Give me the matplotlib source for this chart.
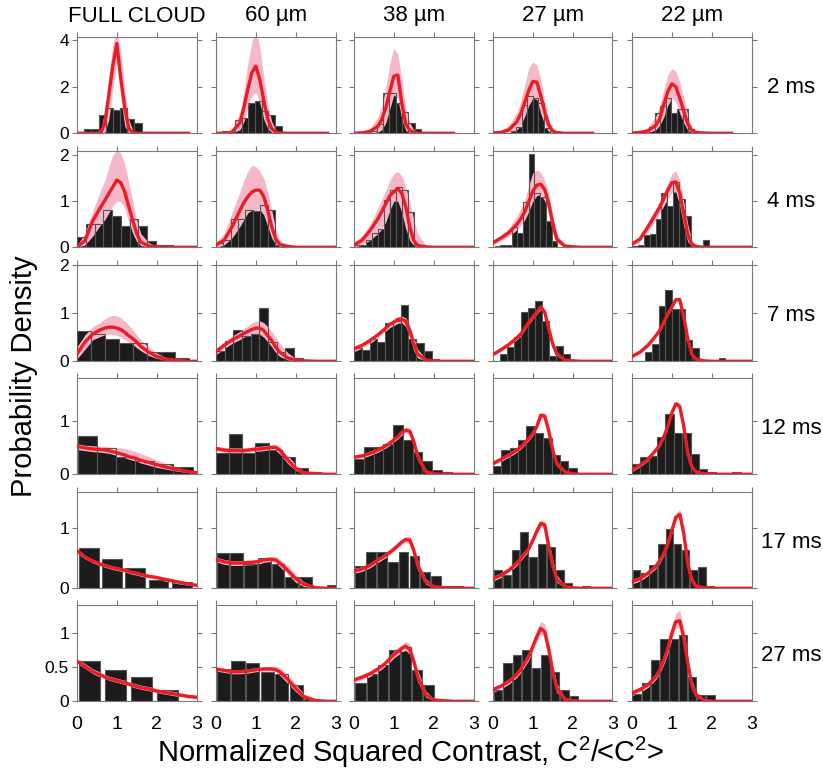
import matplotlib
matplotlib.use('Agg')
import matplotlib.pyplot as plt
import numpy as np

plt.rcParams['font.family'] = ['Liberation Sans', 'DejaVu Sans']
plt.rcParams['mathtext.fontset'] = 'custom'
plt.rcParams['mathtext.rm'] = 'Liberation Sans'

nan = np.nan

col_titles = ['FULL CLOUD', '60 µm', '38 µm', '27 µm', '22 µm']
row_labels = ['2 ms', '4 ms', '7 ms', '12 ms', '17 ms', '27 ms']
y_top = [4.13, 2.09, 2.0, 1.79, 1.6, 1.4]
y_ticks = [[0, 2, 4], [0, 1, 2], [0, 1, 2], [0, 1], [0, 1], [0, 0.5, 1]]

# x positions where the fitted curve / band were read
xk = [0, .2, .4, .6, .7, .8, .9, 1.0, 1.1, 1.2, 1.3, 1.4, 1.5, 1.6, 1.8, 2.0, 2.2, 2.5, 2.8, 3.0]

# histogram bins: first edge and width per panel (rows x cols)
bin_x0 = [[0, -0.025, 0.1, 0.02, 0.01],
          [0, 0, 0, 0.04, 0],
          [0, 0, 0, 0, 0],
          [0.02, 0, 0, 0, 0],
          [0, 0.005, 0.02, 0.01, 0.015],
          [0, 0, 0.02, 0, 0]]
bin_w = [[0.18, 0.1675, 0.158, 0.14, 0.14],
         [0.22, 0.185, 0.15, 0.143, 0.148],
         [0.35, 0.218, 0.195, 0.175, 0.1675],
         [0.48, 0.33, 0.245, 0.21, 0.21],
         [0.585, 0.345, 0.272, 0.222, 0.205],
         [0.65, 0.367, 0.285, 0.24, 0.232]]
bar_fill = [[1] * 5, [1] * 5, [1] * 5, [1] * 5,
            [0.85, 0.92, 0.9, 0.88, 0.9],
            [0.81, 0.9, 0.9, 0.88, 0.9]]

h_2ms = [[0.03, 0.2, 0.18, 0.78, 1.1, 1.0, 1.1, 0.6, 0.44, 0.04, 0.04],
         [0, 0.1, 0.05, 0.57, 0.67, 1.3, 1.37, 0.95, 0.8, 0.3],
         [0.02, 0.04, 0.1, 0.4, 1.72, 1.74, 1.3, 0.93, 0.45, 0.2, 0.05, 0.05],
         [0, 0.01, 0.03, 0.1, 0.25, 1.2, 1.6, 1.5, 1.28, 0.22, 0.1, 0.05],
         [0, 0.01, 0.03, 0.29, 0.86, 1.19, 1.53, 0.86, 1.04, 1.04, 0.19, 0, 0.07, 0.07]]
h_4ms = [[0.22, 0.51, 0.51, 0.8, 0.67, 0.47, 0.62, 0.47, 0.13, 0.04, 0.04],
         [0.09, 0.15, 0.62, 0.62, 0.82, 0.79, 0.91, 0.82, 0.04, 0.02],
         [0.05, 0.04, 0.16, 0.3, 0.4, 1.02, 1.25, 1.31, 1.25, 0.77, 0.05, 0.05],
         [0.02, 0.06, 0.06, 0.45, 0.32, 0.99, 2.02, 1.17, 1.1, 0.58, 0.13],
         [0.02, 0.05, 0.26, 0.29, 0.62, 1.17, 0.89, 1.42, 1.04, 0.67, 0.04, 0, 0.15]]
h_7ms = [[0.63, 0.57, 0.47, 0.38, 0.38, 0.19, 0.19, 0.06, 0.03],
         [0.22, 0.43, 0.64, 0.53, 0.57, 1.11, 0.4, 0.2, 0.28, 0.07, 0.03],
         [0.28, 0.24, 0.47, 0.41, 0.79, 0.83, 1.16, 0.47, 0.38, 0.22, 0.05],
         [0, 0.15, 0.29, 0.51, 1.02, 1.11, 1.26, 0.83, 0.1, 0.31, 0.15],
         [0, 0, 0.19, 0.35, 1.14, 1.49, 1.09, 1.09, 0.45, 0.28, 0, 0, 0, 0.06]]
h_12ms = [[0.72, 0.48, 0.33, 0.25, 0.2, 0.14],
          [0.39, 0.75, 0.39, 0.59, 0.45, 0.32, 0.11, 0.05, 0],
          [0.29, 0.5, 0.5, 0.56, 0.92, 0.63, 0.41, 0.24, 0.08, 0.04],
          [0.16, 0.45, 0.48, 0.64, 0.89, 0.76, 0.67, 0.36, 0.24, 0.12],
          [0.19, 0.33, 0.34, 0.7, 1.12, 0.76, 0.76, 0.38, 0.09, 0.05, 0, 0, 0.05]]
h_17ms = [[0.67, 0.48, 0.33, 0.13, 0.11],
          [0.59, 0.59, 0.41, 0.5, 0.41, 0.19, 0.19, 0, 0.05],
          [0.37, 0.6, 0.6, 0.44, 0.6, 0.54, 0.27, 0.21, 0.04, 0.04],
          [0.3, 0.22, 0.64, 0.93, 0.52, 0.73, 0.69, 0.3, 0.09, 0, 0.04],
          [0.31, 0.26, 0.38, 0.73, 0.99, 0.74, 0.64, 0.3, 0.35, 0.04]]
h_27ms = [[0.59, 0.46, 0.35, 0.16],
          [0.47, 0.59, 0.56, 0.43, 0.39, 0.23, 0.03, 0.02],
          [0.27, 0.4, 0.53, 0.75, 0.79, 0.46, 0.24],
          [0.17, 0.56, 0.68, 0.75, 0.48, 0.68, 0.43, 0.16, 0.07],
          [0.1, 0.27, 0.6, 0.9, 0.9, 0.96, 0.35, 0.09, 0.09]]

fit_2ms = [[0, 0, 0, 0.02, 0.45, 1.65, 2.9, 3.85, 2.35, 1.1, 0.2, 0.03, 0, 0, 0, 0, 0, 0, 0, nan],
           [0, 0, 0.05, 0.45, 1.1, 1.9, 2.6, 2.88, 2.3, 1.4, 0.6, 0.2, 0.05, 0.01, 0, 0, 0, 0, 0, nan],
           [0, 0.02, 0.08, 0.3, 0.6, 1.1, 1.8, 2.45, 2.5, 1.3, 0.4, 0.12, 0.04, 0.01, 0, 0, 0, 0, nan, nan],
           [0.01, 0.04, 0.15, 0.5, 0.85, 1.35, 1.85, 2.22, 2.2, 1.6, 0.9, 0.35, 0.1, 0.03, 0, 0, 0, 0, nan, nan],
           [0.01, 0.04, 0.1, 0.35, 0.65, 1.25, 1.8, 2.12, 2.0, 1.5, 0.95, 0.4, 0.12, 0.04, 0.01, 0, 0, 0, nan, nan]]
lo_2ms = [[0, 0, 0, 0, 0.05, 0.6, 1.9, 3.1, 1.5, 0.3, 0, 0, 0, 0, 0, 0, 0, 0, 0, nan],
          [0, 0, 0, 0.15, 0.5, 1.1, 1.6, 1.75, 1.3, 0.6, 0.2, 0.04, 0, 0, 0, 0, 0, 0, 0, nan],
          [0, 0, 0, 0.05, 0.15, 0.45, 1.05, 1.65, 1.5, 0.6, 0.12, 0.02, 0, 0, 0, 0, 0, 0, nan, nan],
          [0, 0, 0.03, 0.15, 0.35, 0.75, 1.2, 1.5, 1.45, 0.85, 0.35, 0.07, 0, 0, 0, 0, 0, 0, nan, nan],
          [0, 0.01, 0.03, 0.15, 0.35, 0.7, 1.2, 1.5, 1.35, 0.85, 0.45, 0.12, 0.03, 0, 0, 0, 0, 0, nan, nan]]
hi_2ms = [[0, 0, 0, 0.15, 1.0, 2.5, 3.8, 4.6, 3.4, 1.9, 0.6, 0.12, 0.02, 0, 0, 0, 0, 0, 0, nan],
          [0, 0, 0.15, 0.9, 1.8, 3.0, 3.9, 4.4, 3.7, 2.4, 1.2, 0.5, 0.15, 0.05, 0, 0, 0, 0, 0, nan],
          [0, 0.05, 0.2, 0.7, 1.2, 2.0, 3.0, 3.65, 3.4, 2.3, 1.1, 0.45, 0.15, 0.05, 0.01, 0, 0, 0, nan, nan],
          [0.02, 0.1, 0.35, 0.9, 1.4, 2.1, 2.8, 3.06, 2.95, 2.3, 1.4, 0.6, 0.2, 0.06, 0.01, 0, 0, 0, nan, nan],
          [0.02, 0.08, 0.25, 0.75, 1.2, 1.9, 2.5, 2.78, 2.65, 2.2, 1.5, 0.8, 0.3, 0.1, 0.02, 0, 0, 0, nan, nan]]

fit_4ms = [[0, 0.15, 0.58, 0.88, 1.02, 1.17, 1.31, 1.46, 1.4, 1.2, 0.88, 0.58, 0.3, 0.11, 0.03, 0.01, 0, 0, 0, 0],
           [0.05, 0.15, 0.44, 0.8, 0.97, 1.1, 1.2, 1.24, 1.24, 1.1, 0.8, 0.44, 0.18, 0.06, 0.02, 0, 0, 0, 0, 0],
           [0.05, 0.15, 0.36, 0.62, 0.78, 0.95, 1.12, 1.2, 1.28, 1.17, 0.88, 0.44, 0.15, 0.04, 0.01, 0, 0, 0, 0, 0],
           [0.1, 0.2, 0.32, 0.5, 0.62, 0.78, 1.0, 1.22, 1.35, 1.37, 1.25, 0.95, 0.52, 0.18, 0.03, 0.01, 0, 0, 0, 0],
           [0.07, 0.18, 0.44, 0.73, 0.88, 1.06, 1.24, 1.4, 1.42, 1.17, 0.73, 0.29, 0.07, 0.02, 0, 0, 0, 0, 0, 0]]
lo_4ms = [[0, 0.05, 0.25, 0.5, 0.6, 0.75, 0.9, 1.0, 0.98, 0.85, 0.55, 0.3, 0.12, 0.04, 0, 0, 0, 0, 0, 0],
          [0, 0.05, 0.2, 0.45, 0.6, 0.75, 0.8, 0.8, 0.82, 0.7, 0.45, 0.2, 0.06, 0.02, 0, 0, 0, 0, 0, 0],
          [0, 0.05, 0.15, 0.3, 0.4, 0.55, 0.8, 1.0, 1.0, 0.75, 0.4, 0.15, 0.04, 0, 0, 0, 0, 0, 0, 0],
          [0.05, 0.14, 0.24, 0.38, 0.48, 0.6, 0.78, 1.0, 1.12, 1.15, 1.0, 0.7, 0.32, 0.08, 0.01, 0, 0, 0, 0, 0],
          [0.03, 0.12, 0.33, 0.6, 0.75, 0.9, 1.05, 1.2, 1.2, 0.9, 0.45, 0.12, 0.02, 0, 0, 0, 0, 0, 0, 0]]
hi_4ms = [[0.05, 0.3, 0.8, 1.25, 1.45, 1.75, 2.0, 2.1, 2.05, 1.8, 1.4, 1.0, 0.6, 0.3, 0.1, 0.03, 0, 0, 0, 0],
          [0.1, 0.3, 0.75, 1.2, 1.45, 1.65, 1.78, 1.75, 1.65, 1.5, 1.2, 0.8, 0.4, 0.15, 0.04, 0, 0, 0, 0, 0],
          [0.1, 0.25, 0.5, 0.85, 1.05, 1.25, 1.45, 1.6, 1.65, 1.55, 1.3, 1.0, 0.6, 0.3, 0.05, 0, 0, 0, 0, 0],
          [0.15, 0.27, 0.42, 0.68, 0.85, 1.05, 1.35, 1.62, 1.68, 1.62, 1.45, 1.15, 0.7, 0.3, 0.05, 0.01, 0, 0, 0, 0],
          [0.1, 0.25, 0.55, 0.85, 1.0, 1.2, 1.4, 1.6, 1.66, 1.45, 1.0, 0.5, 0.15, 0.04, 0, 0, 0, 0, 0, 0]]

fit_7ms = [[0.15, 0.4, 0.57, 0.66, 0.69, 0.71, 0.71, 0.69, 0.66, 0.6, 0.53, 0.47, 0.4, 0.31, 0.19, 0.1, 0.05, 0.02, 0, 0],
           [0.2, 0.33, 0.44, 0.53, 0.58, 0.62, 0.66, 0.69, 0.69, 0.64, 0.53, 0.43, 0.29, 0.19, 0.07, 0.03, 0.01, 0, 0, 0],
           [0.26, 0.33, 0.43, 0.55, 0.62, 0.69, 0.77, 0.81, 0.87, 0.88, 0.83, 0.64, 0.36, 0.15, 0.03, 0.01, 0, 0, 0, 0],
           [0.14, 0.24, 0.35, 0.49, 0.57, 0.69, 0.81, 0.92, 1.02, 1.13, 1.02, 0.67, 0.36, 0.15, 0.03, 0.01, 0, 0, 0, 0],
           [0.1, 0.19, 0.33, 0.53, 0.65, 0.81, 0.99, 1.13, 1.28, 1.28, 0.92, 0.47, 0.15, 0.05, 0.01, 0, 0, 0, 0, 0]]
lo_7ms = [[0.05, 0.25, 0.45, 0.52, 0.55, 0.56, 0.56, 0.54, 0.5, 0.45, 0.4, 0.35, 0.28, 0.22, 0.12, 0.06, 0.03, 0.01, 0, 0],
          [0.14, 0.26, 0.37, 0.45, 0.5, 0.53, 0.56, 0.57, 0.56, 0.5, 0.4, 0.3, 0.18, 0.1, 0.03, 0.01, 0, 0, 0, 0],
          [0.2, 0.27, 0.37, 0.49, 0.56, 0.63, 0.7, 0.74, 0.79, 0.8, 0.72, 0.5, 0.22, 0.07, 0.01, 0, 0, 0, 0, 0],
          [0.11, 0.21, 0.31, 0.45, 0.53, 0.65, 0.77, 0.88, 0.98, 1.08, 0.96, 0.6, 0.3, 0.11, 0.02, 0, 0, 0, 0, 0],
          [0.08, 0.16, 0.3, 0.5, 0.62, 0.78, 0.95, 1.09, 1.24, 1.22, 0.85, 0.4, 0.11, 0.03, 0, 0, 0, 0, 0, 0]]
hi_7ms = [[0.3, 0.55, 0.72, 0.82, 0.88, 0.93, 0.95, 0.94, 0.9, 0.83, 0.75, 0.66, 0.55, 0.45, 0.3, 0.17, 0.09, 0.03, 0.01, 0],
          [0.27, 0.4, 0.52, 0.62, 0.68, 0.74, 0.8, 0.83, 0.84, 0.8, 0.72, 0.62, 0.5, 0.38, 0.18, 0.06, 0.02, 0, 0, 0],
          [0.3, 0.38, 0.48, 0.6, 0.67, 0.74, 0.82, 0.88, 0.93, 0.94, 0.9, 0.76, 0.5, 0.25, 0.06, 0.01, 0, 0, 0, 0],
          [0.17, 0.27, 0.39, 0.53, 0.61, 0.73, 0.85, 0.96, 1.06, 1.17, 1.08, 0.75, 0.43, 0.2, 0.05, 0.01, 0, 0, 0, 0],
          [0.12, 0.22, 0.36, 0.56, 0.68, 0.84, 1.03, 1.17, 1.33, 1.34, 0.99, 0.54, 0.2, 0.07, 0.01, 0, 0, 0, 0, 0]]

fit_12ms = [[0.52, 0.49, 0.47, 0.46, 0.45, 0.44, 0.42, 0.4, 0.38, 0.36, 0.33, 0.31, 0.29, 0.26, 0.22, 0.18, 0.14, 0.09, 0.05, 0.03],
            [0.48, 0.45, 0.44, 0.44, 0.44, 0.45, 0.46, 0.47, 0.47, 0.48, 0.49, 0.5, 0.5, 0.45, 0.27, 0.11, 0.03, 0.01, 0, 0],
            [0.32, 0.34, 0.39, 0.45, 0.49, 0.53, 0.58, 0.64, 0.7, 0.78, 0.82, 0.8, 0.61, 0.33, 0.05, 0.01, 0, 0, 0, 0],
            [0.2, 0.28, 0.36, 0.45, 0.51, 0.59, 0.67, 0.76, 0.89, 1.1, 1.08, 0.8, 0.45, 0.2, 0.05, 0.01, 0, 0, 0, 0],
            [0.08, 0.17, 0.28, 0.45, 0.55, 0.7, 0.89, 1.14, 1.31, 1.26, 0.89, 0.39, 0.14, 0.05, 0.01, 0, 0, 0, 0, 0]]
lo_12ms = [[0.46, 0.44, 0.42, 0.41, 0.4, 0.39, 0.37, 0.35, 0.33, 0.31, 0.28, 0.26, 0.24, 0.21, 0.17, 0.13, 0.1, 0.06, 0.03, 0.01],
           [0.43, 0.41, 0.4, 0.4, 0.4, 0.41, 0.42, 0.43, 0.43, 0.44, 0.45, 0.45, 0.44, 0.38, 0.2, 0.07, 0.01, 0, 0, 0],
           [0.28, 0.3, 0.35, 0.41, 0.45, 0.49, 0.54, 0.6, 0.66, 0.73, 0.77, 0.73, 0.53, 0.26, 0.03, 0, 0, 0, 0, 0],
           [0.16, 0.24, 0.32, 0.41, 0.47, 0.55, 0.63, 0.72, 0.85, 1.03, 1.02, 0.72, 0.38, 0.15, 0.03, 0, 0, 0, 0, 0],
           [0.05, 0.14, 0.25, 0.42, 0.52, 0.67, 0.86, 1.1, 1.27, 1.2, 0.82, 0.32, 0.1, 0.03, 0, 0, 0, 0, 0, 0]]
hi_12ms = [[0.57, 0.54, 0.53, 0.52, 0.52, 0.51, 0.5, 0.5, 0.49, 0.48, 0.46, 0.44, 0.42, 0.39, 0.33, 0.27, 0.21, 0.13, 0.07, 0.05],
           [0.53, 0.5, 0.49, 0.49, 0.49, 0.5, 0.51, 0.52, 0.52, 0.53, 0.54, 0.55, 0.55, 0.52, 0.35, 0.18, 0.06, 0.02, 0, 0],
           [0.36, 0.38, 0.43, 0.49, 0.53, 0.57, 0.62, 0.68, 0.74, 0.82, 0.87, 0.86, 0.69, 0.4, 0.08, 0.02, 0, 0, 0, 0],
           [0.24, 0.32, 0.4, 0.49, 0.55, 0.63, 0.71, 0.8, 0.93, 1.14, 1.14, 0.88, 0.52, 0.25, 0.07, 0.02, 0, 0, 0, 0],
           [0.11, 0.2, 0.31, 0.48, 0.58, 0.73, 0.92, 1.18, 1.36, 1.33, 0.97, 0.47, 0.19, 0.07, 0.02, 0, 0, 0, 0, 0]]

fit_17ms = [[0.62, 0.52, 0.45, 0.4, 0.38, 0.36, 0.34, 0.33, 0.31, 0.3, 0.28, 0.26, 0.25, 0.23, 0.2, 0.18, 0.15, 0.11, 0.07, 0.05],
            [0.48, 0.44, 0.42, 0.42, 0.42, 0.43, 0.43, 0.44, 0.45, 0.47, 0.48, 0.48, 0.47, 0.42, 0.3, 0.16, 0.07, 0.01, 0, 0],
            [0.29, 0.32, 0.38, 0.47, 0.51, 0.55, 0.6, 0.65, 0.71, 0.77, 0.81, 0.8, 0.63, 0.38, 0.11, 0.03, 0.01, 0, 0, 0],
            [0.16, 0.22, 0.3, 0.42, 0.5, 0.58, 0.66, 0.8, 0.95, 1.08, 1.05, 0.69, 0.38, 0.15, 0.03, 0.01, 0, 0, 0, 0],
            [0.11, 0.16, 0.25, 0.37, 0.46, 0.58, 0.74, 0.96, 1.18, 1.23, 0.91, 0.41, 0.14, 0.04, 0.01, 0, 0, 0, 0, 0]]
lo_17ms = [[0.58, 0.49, 0.42, 0.37, 0.35, 0.33, 0.31, 0.3, 0.28, 0.27, 0.25, 0.23, 0.22, 0.2, 0.17, 0.15, 0.12, 0.08, 0.05, 0.03],
           [0.44, 0.4, 0.38, 0.38, 0.38, 0.39, 0.39, 0.4, 0.41, 0.43, 0.44, 0.44, 0.42, 0.36, 0.23, 0.1, 0.03, 0, 0, 0],
           [0.25, 0.28, 0.34, 0.43, 0.47, 0.51, 0.56, 0.61, 0.67, 0.72, 0.76, 0.74, 0.55, 0.3, 0.07, 0.01, 0, 0, 0, 0],
           [0.12, 0.18, 0.26, 0.38, 0.46, 0.54, 0.62, 0.75, 0.9, 1.02, 0.98, 0.6, 0.3, 0.1, 0.01, 0, 0, 0, 0, 0],
           [0.07, 0.12, 0.21, 0.33, 0.42, 0.54, 0.7, 0.91, 1.12, 1.16, 0.82, 0.33, 0.09, 0.02, 0, 0, 0, 0, 0, 0]]
hi_17ms = [[0.66, 0.55, 0.48, 0.43, 0.41, 0.39, 0.37, 0.36, 0.34, 0.33, 0.31, 0.29, 0.28, 0.26, 0.23, 0.21, 0.18, 0.14, 0.09, 0.07],
           [0.52, 0.48, 0.46, 0.46, 0.46, 0.47, 0.47, 0.48, 0.49, 0.51, 0.52, 0.53, 0.53, 0.49, 0.38, 0.23, 0.11, 0.03, 0, 0],
           [0.33, 0.36, 0.42, 0.51, 0.55, 0.59, 0.64, 0.69, 0.75, 0.82, 0.86, 0.87, 0.72, 0.47, 0.16, 0.05, 0.01, 0, 0, 0],
           [0.2, 0.26, 0.34, 0.46, 0.54, 0.62, 0.7, 0.85, 1.0, 1.13, 1.13, 0.8, 0.48, 0.22, 0.05, 0.01, 0, 0, 0, 0],
           [0.15, 0.2, 0.29, 0.41, 0.5, 0.62, 0.79, 1.01, 1.24, 1.31, 1.01, 0.5, 0.2, 0.07, 0.01, 0, 0, 0, 0, 0]]

fit_27ms = [[0.58, 0.51, 0.43, 0.38, 0.355, 0.33, 0.315, 0.3, 0.285, 0.27, 0.25, 0.23, 0.215, 0.2, 0.18, 0.15, 0.13, 0.1, 0.07, 0.06],
            [0.47, 0.45, 0.43, 0.43, 0.435, 0.44, 0.45, 0.46, 0.465, 0.47, 0.47, 0.47, 0.46, 0.43, 0.32, 0.19, 0.07, 0.01, 0, 0],
            [0.31, 0.35, 0.4, 0.47, 0.51, 0.56, 0.62, 0.68, 0.72, 0.77, 0.8, 0.75, 0.58, 0.36, 0.1, 0.02, 0.01, 0, 0, 0],
            [0.17, 0.22, 0.29, 0.39, 0.47, 0.56, 0.65, 0.8, 0.94, 1.06, 1.01, 0.75, 0.43, 0.19, 0.03, 0.01, 0, 0, 0, 0],
            [0.12, 0.17, 0.24, 0.36, 0.46, 0.6, 0.77, 0.99, 1.16, 1.17, 0.92, 0.56, 0.24, 0.1, 0.02, 0, 0, 0, 0, 0]]
lo_27ms = [[0.55, 0.48, 0.4, 0.35, 0.33, 0.305, 0.29, 0.275, 0.26, 0.245, 0.225, 0.205, 0.19, 0.175, 0.155, 0.125, 0.105, 0.075, 0.05, 0.04],
           [0.44, 0.42, 0.4, 0.4, 0.405, 0.41, 0.42, 0.43, 0.435, 0.44, 0.44, 0.44, 0.42, 0.38, 0.26, 0.14, 0.04, 0, 0, 0],
           [0.27, 0.31, 0.36, 0.43, 0.47, 0.52, 0.57, 0.63, 0.67, 0.72, 0.74, 0.68, 0.5, 0.28, 0.06, 0.01, 0, 0, 0, 0],
           [0.13, 0.18, 0.25, 0.35, 0.42, 0.51, 0.6, 0.74, 0.87, 0.98, 0.93, 0.66, 0.35, 0.13, 0.01, 0, 0, 0, 0, 0],
           [0.08, 0.13, 0.2, 0.32, 0.41, 0.54, 0.7, 0.9, 1.06, 1.07, 0.82, 0.46, 0.17, 0.06, 0.01, 0, 0, 0, 0, 0]]
hi_27ms = [[0.62, 0.55, 0.47, 0.42, 0.39, 0.365, 0.35, 0.335, 0.32, 0.305, 0.285, 0.265, 0.25, 0.235, 0.215, 0.185, 0.165, 0.135, 0.1, 0.085],
           [0.5, 0.48, 0.46, 0.46, 0.465, 0.47, 0.48, 0.49, 0.495, 0.5, 0.505, 0.51, 0.51, 0.49, 0.39, 0.25, 0.11, 0.03, 0, 0],
           [0.35, 0.39, 0.44, 0.51, 0.55, 0.6, 0.67, 0.73, 0.78, 0.83, 0.87, 0.84, 0.68, 0.45, 0.15, 0.04, 0.01, 0, 0, 0],
           [0.21, 0.26, 0.33, 0.43, 0.52, 0.62, 0.72, 0.88, 1.04, 1.16, 1.13, 0.88, 0.53, 0.26, 0.06, 0.01, 0, 0, 0, 0],
           [0.16, 0.21, 0.28, 0.4, 0.51, 0.66, 0.85, 1.09, 1.28, 1.33, 1.06, 0.68, 0.32, 0.15, 0.04, 0, 0, 0, 0, 0]]

heights = [h_2ms, h_4ms, h_7ms, h_12ms, h_17ms, h_27ms]
fits = [fit_2ms, fit_4ms, fit_7ms, fit_12ms, fit_17ms, fit_27ms]
lows = [lo_2ms, lo_4ms, lo_7ms, lo_12ms, lo_17ms, lo_27ms]
highs = [hi_2ms, hi_4ms, hi_7ms, hi_12ms, hi_17ms, hi_27ms]

W, H = 823, 776
fig = plt.figure(figsize=(W / 100, H / 100), dpi=100)

col_left = [77, 216, 354, 493, 632]
row_top = [37, 151, 265, 378, 492, 605]
pw, ph = 119.5, 96.3

frame = '#7a7a7a'
for r in range(6):
    for c in range(5):
        ax = fig.add_axes([col_left[c] / W, 1 - (row_top[r] + ph) / H, pw / W, ph / H])
        n = len(heights[r][c])
        w = bin_w[r][c]
        centers = bin_x0[r][c] + w * (np.arange(n) + 0.5)
        bw = w * bar_fill[r][c]
        ax.bar(centers, heights[r][c], width=bw, color='#1c1c1c', edgecolor='#d0d0d0',
               linewidth=0.5, zorder=1)
        ax.fill_between(xk, lows[r][c], highs[r][c], color='#f5b8c8', linewidth=0, zorder=2)
        ax.bar(centers, heights[r][c], width=bw, fill=False, edgecolor='#555555',
               linewidth=0.8, zorder=3)
        ax.plot(xk, fits[r][c], color='#ec1c24', linewidth=2.4, zorder=4,
                solid_joinstyle='round')

        ax.set_xlim(0, 3)
        ax.set_ylim(0, y_top[r])
        ax.set_xticks([0, 1, 2, 3])
        ax.set_yticks(y_ticks[r])
        for s in ax.spines.values():
            s.set_color(frame)
            s.set_linewidth(0.8)
        ax.tick_params(axis='both', direction='out', length=3.8, width=0.8, color=frame,
                       top=True, bottom=False, left=True, right=True,
                       labeltop=False, labelright=False)
        ax.tick_params(axis='y', labelsize=12.5, pad=2, labelleft=(c == 0))
        ax.tick_params(axis='x', labelsize=14, pad=7, labelbottom=(r == 5))
        if c == 0:
            ax.set_yticklabels([('%g' % v) for v in y_ticks[r]])

for c in range(5):
    fig.text((col_left[c] + pw / 2) / W, 1 - 16 / H, col_titles[c], ha='center',
             va='center', fontsize=16)
for r in range(6):
    fig.text(791 / W, 1 - (row_top[r] + ph / 2 + 2) / H, row_labels[r], ha='center',
             va='center', fontsize=16)

fig.text(24 / W, 1 - 376 / H, 'Probability Density', rotation=90, ha='center',
         va='center', fontsize=21)
fig.text(411 / W, 1 - 752 / H,
         r'Normalized Squared Contrast, C$\mathregular{^2}$/<C$\mathregular{^2}$>',
         ha='center', va='center', fontsize=21)

fig.savefig('out.png', dpi=100)
